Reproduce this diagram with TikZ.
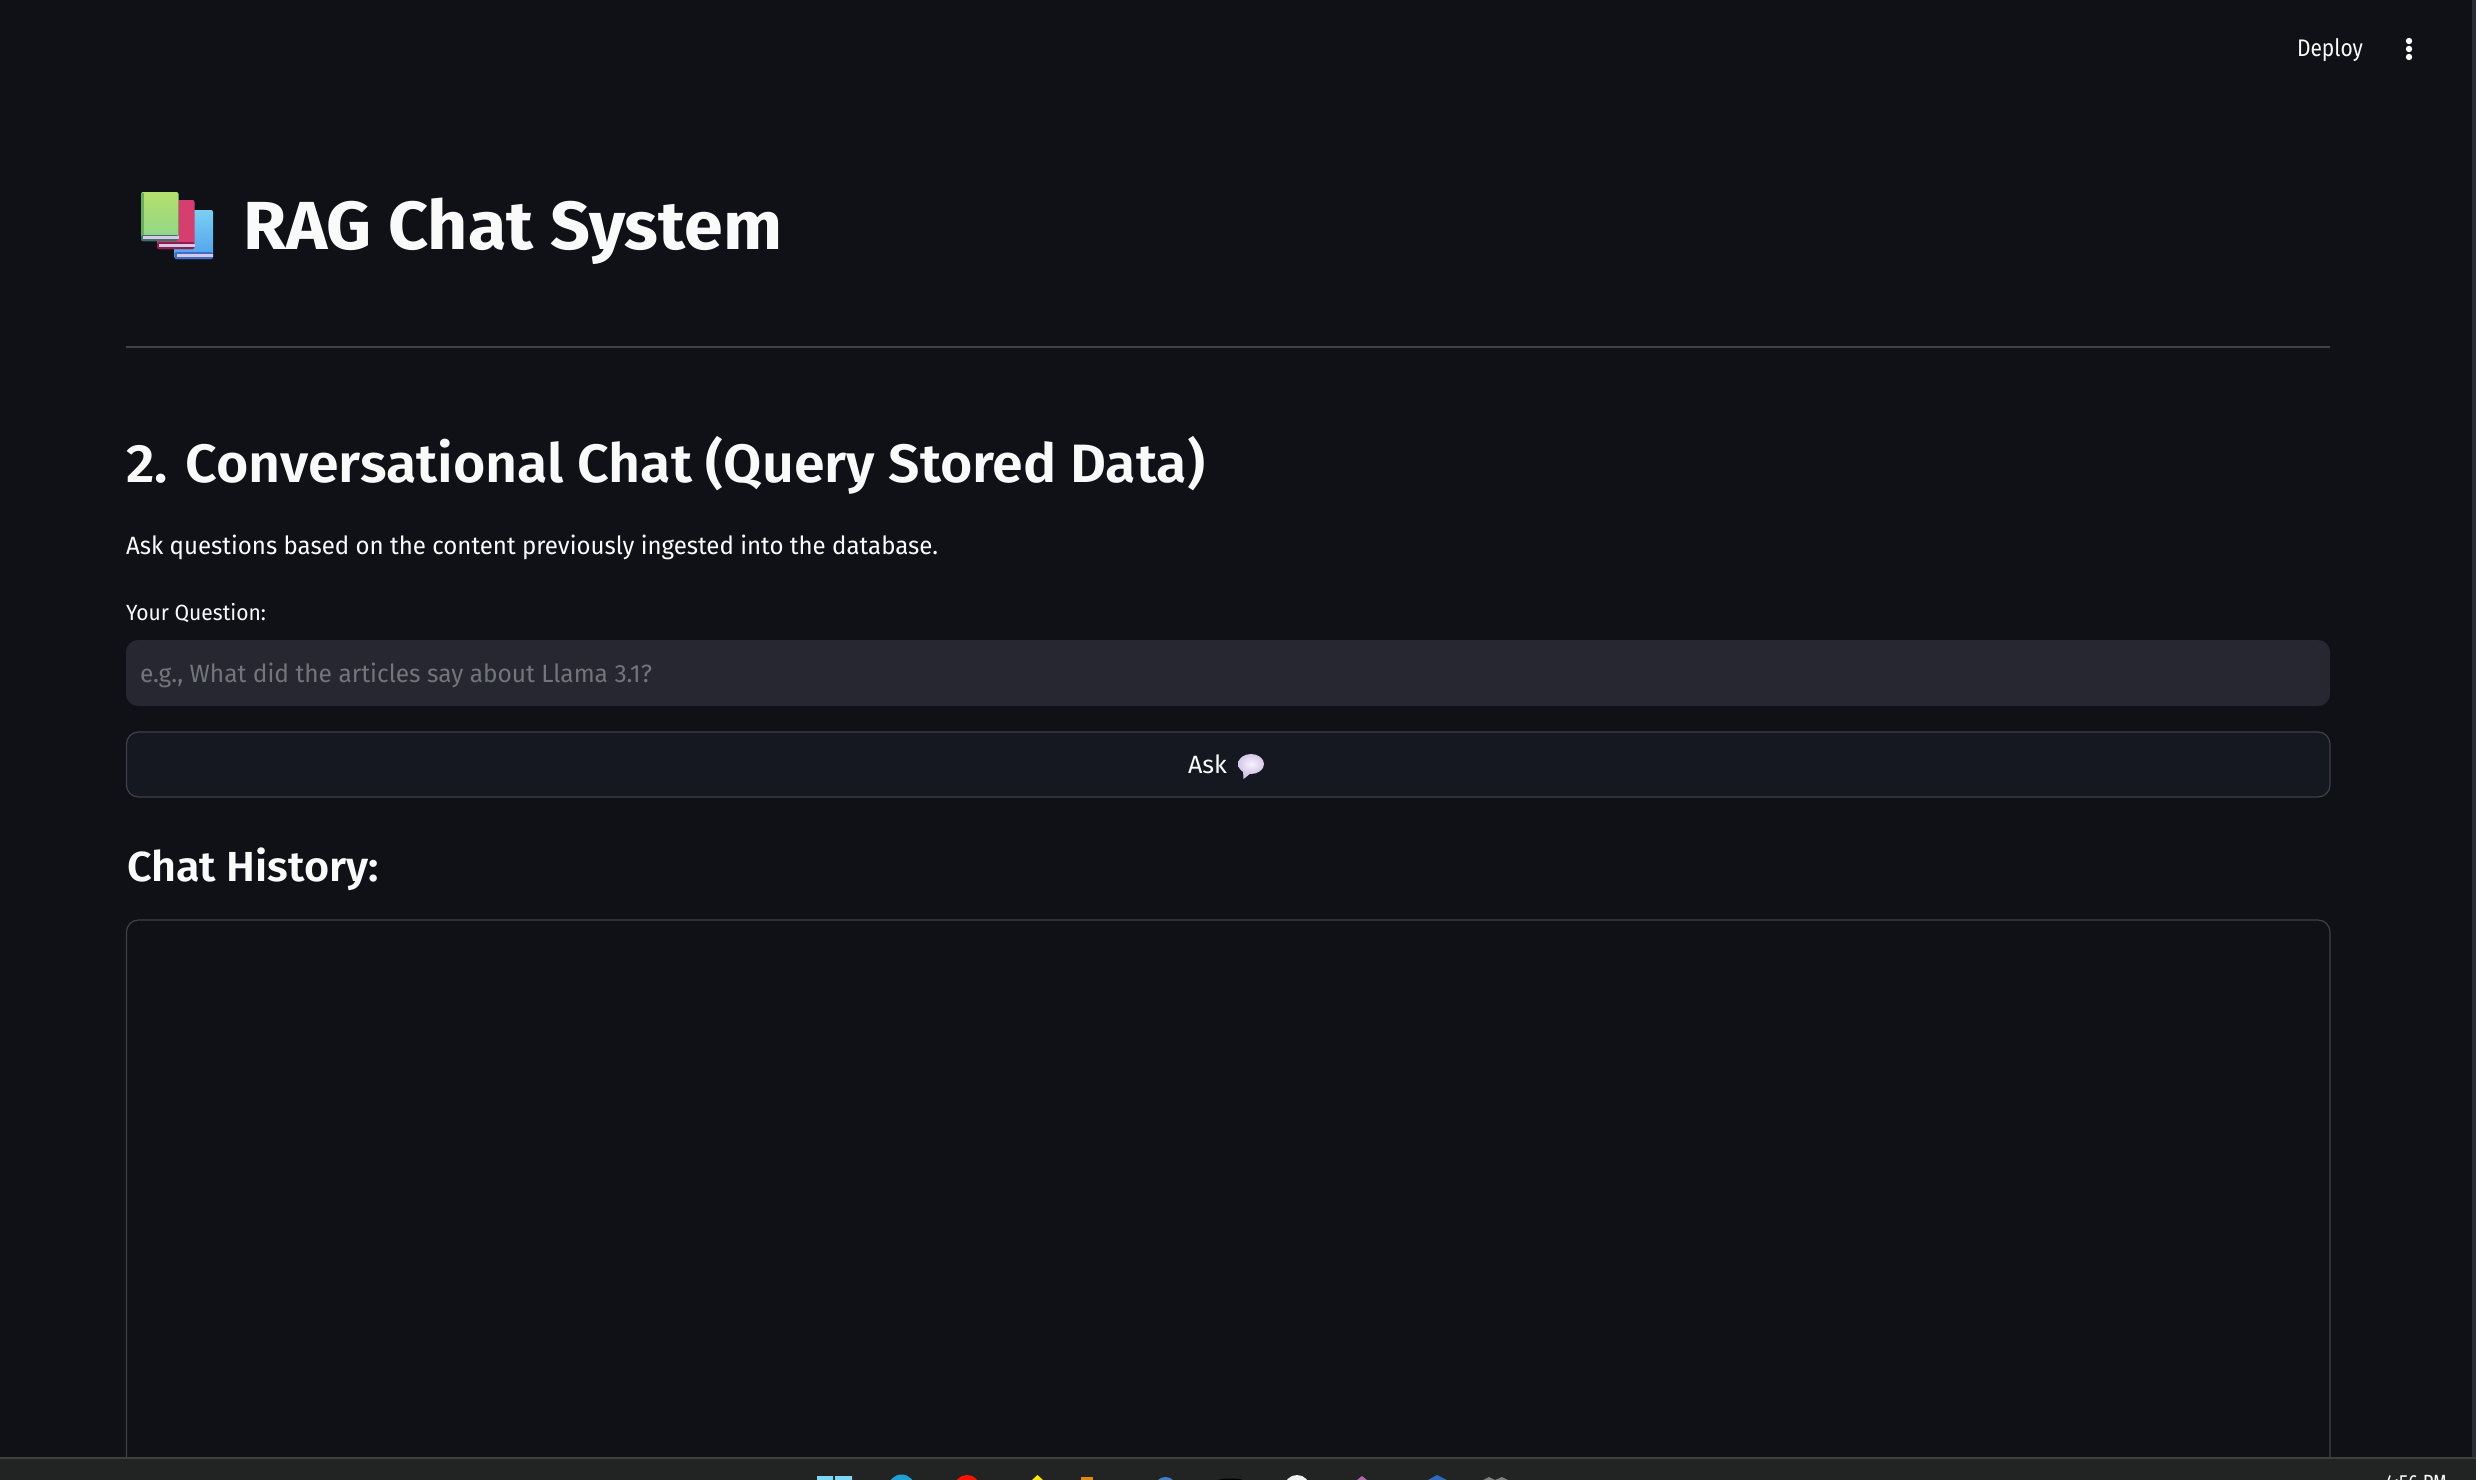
\documentclass[tikz,border=0pt]{standalone}
\usepackage{fontspec}
\usepackage{graphicx}
\setmainfont{Fira Sans}
\newfontfamily\boldui{Fira Sans}[UprightFont=* Bold]
\newfontfamily\semiui{Fira Sans}[UprightFont=* SemiBold]
\definecolor{pagebg}{HTML}{0F1116}
\definecolor{inputbg}{HTML}{262730}
\definecolor{btnbg}{HTML}{151821}
\definecolor{edge}{HTML}{3F4148}
\definecolor{ink}{HTML}{FAFAFA}
\definecolor{hint}{HTML}{72757C}
\definecolor{barbg}{HTML}{222423}
\definecolor{barline}{HTML}{3D3E3D}
\definecolor{scrollbg}{HTML}{2B2C30}
\definecolor{pagewhite}{HTML}{D8C8E8}
\definecolor{bubblelight}{HTML}{F6F2FC}
\definecolor{bubbledark}{HTML}{D5C8E8}
\definecolor{bluetop}{HTML}{7ACFF3}
\definecolor{bluelow}{HTML}{4F9FEC}
\definecolor{bluebase}{HTML}{3F6FC4}
\definecolor{redbody}{HTML}{D43F70}
\definecolor{redbase}{HTML}{8E1D50}
\definecolor{greentop}{HTML}{B5E06C}
\definecolor{greenlow}{HTML}{8FD58C}
\definecolor{greenspine}{HTML}{6BAE60}
\definecolor{greenbase}{HTML}{3E6F68}
\newsavebox\uibox
% name, x, baseline y, font, target width, colour, text
\newcommand\uitext[7]{%
  \node[anchor=base west,inner sep=0pt,outer sep=0pt,text=#6] (#1) at (#2,#3) {%
    \sbox\uibox{#4#7}%
    \pgfmathsetmacro\uisx{#5/\the\wd\uibox}%
    \scalebox{\uisx}[1]{\usebox\uibox}};%
}
\newcommand\uifont[2]{#1\fontsize{#2}{#2}\selectfont}
\tikzset{
  panel/.style={draw=edge,line width=1.2pt,rounded corners=12pt},
  bookedge/.style={rounded corners=2pt}
}
\begin{document}
\begin{tikzpicture}[x=1pt,y=-1pt]
\useasboundingbox (0,0) rectangle (2476,1480);
\clip (0,0) rectangle (2476,1480);
\fill[pagebg] (0,0) rectangle (2476,1480);
\fill[scrollbg] (2472,0) rectangle (2476,1457);
% header
\uitext{deploy}{2297}{57}{\uifont{\rmfamily}{24}}{66}{ink}{Deploy}
\foreach \d in {41,49,57} \fill[ink] (2409,\d) circle (3.2);
% books: blue
\fill[bookedge,top color=bluetop,bottom color=bluelow] (174.5,210) rectangle (213,259);
\fill[bookedge,fill=bluebase] (174.5,252) rectangle (213,259);
\fill[pagewhite] (177,254) rectangle (213,257);
% books: red
\fill[bookedge,fill=redbody] (157,200) rectangle (194.5,249);
\fill[bookedge,fill=redbase] (157,242) rectangle (194.5,249);
\fill[pagewhite] (159,244) rectangle (194.5,247);
% books: green
\fill[bookedge,top color=greentop,bottom color=greenlow] (141,192) rectangle (178.5,241);
\fill[greenspine] (141,193) rectangle (144,237);
\fill[bookedge,fill=greenbase] (141,235) rectangle (178.5,241);
\fill[pagewhite] (143,236) rectangle (178.5,239);
% titles
\uitext{title}{243}{249}{\uifont{\boldui}{68}}{539}{ink}{RAG Chat System}
\draw[edge,line width=1.4pt] (126,347) -- (2330,347);
\uitext{heading}{126}{482}{\uifont{\semiui}{54}}{1079}{ink}{2. Conversational Chat (Query Stored Data)}
\uitext{intro}{126}{554}{\uifont{\rmfamily}{25}}{812}{ink}{Ask questions based on the content previously ingested into the database.}
\uitext{qlabel}{126}{620}{\uifont{\rmfamily}{22}}{140}{ink}{Your Question:}
% input
\fill[inputbg,rounded corners=12pt] (126,640) rectangle (2330,706);
\uitext{hinttext}{140}{682}{\uifont{\rmfamily}{25}}{512}{hint}{e.g., What did the articles say about Llama 3.1?}
% button
\path[panel,fill=btnbg] (126.5,732) rectangle (2330,797);
\uitext{ask}{1188}{773}{\uifont{\rmfamily}{25}}{39}{ink}{Ask}
\fill[bubbledark] (1243,770) -- (1243.5,779) -- (1251,773) -- cycle;
\shade[inner color=bubblelight,outer color=bubbledark] (1251,764) ellipse (13 and 10);
% chat history
\uitext{history}{127}{881}{\uifont{\semiui}{42}}{252}{ink}{Chat History:}
\path[panel] (126.5,920) rectangle (2330,1500);
% taskbar
\fill[barbg] (0,1457) rectangle (2476,1480);
\fill[barline] (0,1457) rectangle (2476,1459);
\fill[cyan!50!white] (817,1476) rectangle (833,1480) (835,1476) rectangle (852,1480);
\fill[cyan!70!teal] (901.5,1488) circle (13.5);
\fill[red!85!orange] (967,1488) circle (13);
\fill[yellow!90!orange] (1032,1480) -- (1037.5,1475) -- (1043,1480) -- cycle;
\fill[orange!80!yellow!90!black] (1081,1477) rectangle (1093,1480);
\fill[cyan!50!blue!80] (1165.5,1488) circle (11);
\fill[black] (1218,1480) .. controls (1222,1478) and (1239,1478) .. (1243,1480) -- cycle;
\fill[white!90!gray] (1297,1488) circle (13);
\fill[violet!60!white] (1357,1480) -- (1362,1476) -- (1367,1480) -- cycle;
\fill[cyan!40!blue!90] (1428,1480) -- (1437,1475) -- (1447,1480) -- cycle;
\fill[gray] (1483,1480) -- (1489,1477) -- (1495,1480) -- (1502,1477) -- (1508,1480) -- cycle;
\uitext{clock}{2385}{1490}{\uifont{\rmfamily}{22}}{62}{ink}{4:56 PM}
\end{tikzpicture}
\end{document}
